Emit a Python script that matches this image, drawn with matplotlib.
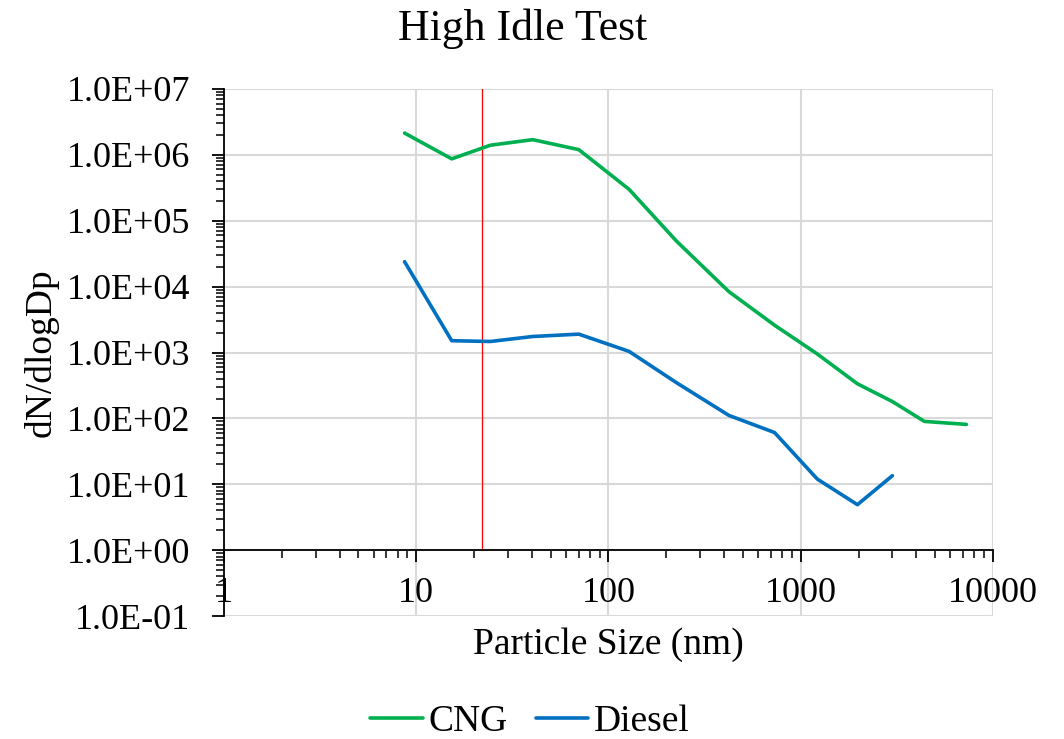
import math

import matplotlib
matplotlib.use("Agg")
import matplotlib.pyplot as plt
from matplotlib.ticker import FuncFormatter, LogLocator, NullFormatter

# particle size bins (nm)
sizes = [8.7, 15.3, 24.3, 40.4, 70.1, 128, 226, 423, 731, 1220, 1973, 3000, 4400, 7280]
cng = [2.14e6, 8.7e5, 1.40e6, 1.70e6, 1.20e6, 3.0e5, 4.9e4, 8.4e3, 2.6e3, 950, 335, 180, 90, 81]
diesel = [2.39e4, 1.51e3, 1.47e3, 1.75e3, 1.90e3, 1.04e3, 348, 111, 61, 12.0, 4.9, 13.5]
cutoff_nm = 22.0

COLORS = {
    "cng": "#00B050",
    "diesel": "#0070C0",
    "cutoff": "#FF0000",
    "grid": "#D9D9D9",
}

plt.rcParams["font.family"] = ["Liberation Serif", "DejaVu Serif"]


def sci_label(value, _pos):
    exp = int(round(math.log10(value)))
    sign = "+" if exp >= 0 else "-"
    return f"1.0E{sign}{abs(exp):02d}"


fig = plt.figure(figsize=(10.64, 7.39), dpi=100)
ax = fig.add_axes([0.2105, 0.1664, 0.7227, 0.7132])

ax.plot(sizes, cng, color=COLORS["cng"], linewidth=2.6, label="CNG", solid_capstyle="round", zorder=3)
ax.plot(sizes[:len(diesel)], diesel, color=COLORS["diesel"], linewidth=2.6, label="Diesel",
        solid_capstyle="round", zorder=3)
# cut-off marker, drawn from the x axis (y=1) up to the top
ax.plot([cutoff_nm, cutoff_nm], [1, 1e7], color=COLORS["cutoff"], linewidth=0.9, zorder=2)

ax.set_xscale("log")
ax.set_yscale("log")
ax.set_xlim(1, 1e4)
ax.set_ylim(0.1, 1e7)

ax.xaxis.set_major_locator(LogLocator(base=10, numticks=10))
ax.xaxis.set_minor_locator(LogLocator(base=10, subs=range(2, 10), numticks=50))
ax.yaxis.set_major_locator(LogLocator(base=10, numticks=20))
ax.yaxis.set_minor_locator(LogLocator(base=10, subs=range(2, 10), numticks=100))
ax.xaxis.set_major_formatter(FuncFormatter(lambda v, p: f"{v:g}"))
ax.xaxis.set_minor_formatter(NullFormatter())
ax.yaxis.set_major_formatter(FuncFormatter(sci_label))
ax.yaxis.set_minor_formatter(NullFormatter())

ax.grid(True, which="major", color=COLORS["grid"], linewidth=1.5)
ax.set_axisbelow(True)

for spine in ["top", "right"]:
    ax.spines[spine].set_visible(False)
ax.spines["bottom"].set_position(("data", 1))
ax.spines["left"].set_linewidth(1.3)
ax.spines["bottom"].set_linewidth(1.3)

ax.tick_params(axis="both", which="major", direction="out", length=8.5, width=1.3, labelsize=26)
ax.tick_params(axis="both", which="minor", direction="out", length=6, width=1.1)
ax.tick_params(axis="x", which="major", pad=11)
ax.tick_params(axis="y", which="major", pad=16)

ax.set_xlabel("Particle Size (nm)", fontsize=27)
ax.xaxis.set_label_coords(0.5, -0.055)
ax.xaxis.label.set_va("center")
ax.set_ylabel("dN/dlogDp", fontsize=27)
ax.yaxis.set_label_coords(-0.238, 0.5)
ax.yaxis.label.set_va("center")

fig.suptitle("High Idle Test", x=0.4915, y=1 - 29 / 739, va="center", fontsize=31.5)

fig.legend(loc="center", bbox_to_anchor=(530 / 1064, 1 - 722 / 739), ncol=2, frameon=False,
           fontsize=27, handlelength=1.4, handletextpad=0.16, columnspacing=0.75)

fig.savefig("out.png", dpi=100)
